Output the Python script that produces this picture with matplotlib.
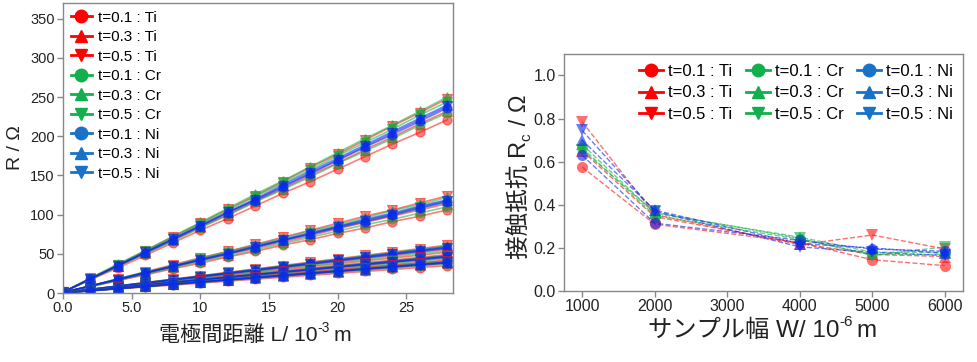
import matplotlib
matplotlib.use("Agg")
import matplotlib.pyplot as plt
from matplotlib.lines import Line2D
from matplotlib.transforms import IdentityTransform

FAMILY = ['Liberation Sans', 'Noto Sans CJK JP', 'DejaVu Sans']
plt.rcParams['font.family'] = FAMILY

# ---------------- data ----------------
series_labels = ["t=0.1 : Ti", "t=0.3 : Ti", "t=0.5 : Ti",
                 "t=0.1 : Cr", "t=0.3 : Cr", "t=0.5 : Cr",
                 "t=0.1 : Ni", "t=0.3 : Ni", "t=0.5 : Ni"]

L = [0, 2, 4, 6, 8, 10, 12, 14, 16, 18, 20, 22, 24, 26, 28]

R_W1000 = [
    [1, 17, 32, 48, 64, 80, 95, 111, 127, 142, 158, 174, 190, 205, 221],
    [1, 18, 34, 51, 67, 84, 100, 117, 133, 150, 166, 183, 199, 216, 232],
    [1, 19, 36, 54, 72, 89, 107, 124, 142, 160, 177, 195, 213, 230, 248],
    [1, 17, 34, 50, 66, 83, 99, 116, 132, 148, 165, 181, 197, 214, 230],
    [1, 19, 37, 54, 72, 90, 108, 126, 143, 161, 179, 197, 214, 232, 250],
    [1, 18, 36, 53, 70, 88, 105, 123, 140, 157, 175, 192, 209, 227, 244],
    [1, 18, 35, 51, 68, 85, 102, 118, 135, 152, 169, 186, 202, 219, 236],
    [1, 18, 35, 52, 69, 86, 103, 120, 138, 155, 172, 189, 206, 223, 240],
    [1, 18, 35, 52, 69, 86, 103, 119, 136, 153, 170, 187, 204, 221, 238],
]
R_W2000 = [
    [0.6, 8, 16, 23, 31, 38, 46, 53, 61, 68, 76, 83, 91, 98, 106],
    [0.6, 9, 17, 25, 33, 41, 49, 57, 65, 73, 82, 90, 98, 106, 114],
    [0.6, 9, 18, 27, 36, 45, 53, 62, 71, 80, 89, 98, 106, 115, 124],
    [0.6, 8, 16, 24, 32, 40, 47, 55, 63, 71, 79, 87, 94, 102, 110],
    [0.6, 9, 18, 27, 35, 44, 53, 61, 70, 79, 87, 96, 105, 113, 122],
    [0.6, 9, 17, 26, 34, 43, 51, 59, 68, 76, 85, 93, 101, 110, 118],
    [0.6, 9, 17, 25, 34, 42, 50, 58, 67, 75, 83, 91, 99, 108, 116],
    [0.6, 9, 18, 26, 34, 43, 51, 60, 68, 77, 85, 94, 102, 111, 119],
    [0.6, 9, 17, 26, 34, 42, 50, 59, 67, 75, 84, 92, 100, 109, 117],
]
R_W4000 = [
    [0.4, 4.1, 7.8, 11.5, 15.2, 18.8, 22.5, 26.2, 29.9, 33.6, 37.3, 41.0, 44.6, 48.3, 52],
    [0.4, 4.4, 8.3, 12.3, 16.3, 20.3, 24.2, 28.2, 32.2, 36.1, 40.1, 44.1, 48.1, 52.0, 56],
    [0.4, 4.7, 9.1, 13.4, 17.7, 22.0, 26.4, 30.7, 35.0, 39.4, 43.7, 48.0, 52.3, 56.7, 61],
    [0.4, 4.2, 8.1, 11.9, 15.7, 19.5, 23.4, 27.2, 31.0, 34.9, 38.7, 42.5, 46.3, 50.2, 54],
    [0.4, 4.7, 8.9, 13.2, 17.4, 21.7, 25.9, 30.2, 34.5, 38.7, 43.0, 47.2, 51.5, 55.7, 60],
    [0.4, 4.5, 8.6, 12.7, 16.9, 21.0, 25.1, 29.2, 33.3, 37.4, 41.5, 45.7, 49.8, 53.9, 58],
    [0.4, 4.4, 8.5, 12.5, 16.6, 20.6, 24.7, 28.7, 32.7, 36.8, 40.8, 44.9, 48.9, 53.0, 57],
    [0.4, 4.6, 8.8, 13.0, 17.2, 21.3, 25.5, 29.7, 33.9, 38.1, 42.3, 46.5, 50.7, 54.8, 59],
    [0.4, 4.5, 8.7, 12.8, 16.9, 21.0, 25.1, 29.2, 33.3, 37.4, 41.6, 45.7, 49.8, 53.9, 58],
]
R_W5000 = [
    [0.3, 3.3, 6.3, 9.2, 12.2, 15.2, 18.2, 21.2, 24.1, 27.1, 30.1, 33.1, 36.0, 39.0, 42],
    [0.3, 3.5, 6.7, 9.9, 13.1, 16.3, 19.5, 22.7, 25.8, 29.0, 32.2, 35.4, 38.6, 41.8, 45],
    [0.3, 3.8, 7.3, 10.7, 14.2, 17.7, 21.2, 24.7, 28.1, 31.6, 35.1, 38.6, 42.0, 45.5, 49],
    [0.3, 3.4, 6.5, 9.7, 12.8, 15.9, 19.0, 22.1, 25.3, 28.4, 31.5, 34.6, 37.7, 40.9, 44],
    [0.3, 3.7, 7.1, 10.5, 13.9, 17.3, 20.7, 24.1, 27.6, 31.0, 34.4, 37.8, 41.2, 44.6, 48],
    [0.3, 3.6, 7.0, 10.3, 13.6, 17.0, 20.3, 23.7, 27.0, 30.3, 33.7, 37.0, 40.3, 43.7, 47],
    [0.3, 3.6, 6.8, 10.1, 13.3, 16.6, 19.9, 23.1, 26.4, 29.6, 32.9, 36.2, 39.4, 42.7, 46],
    [0.3, 3.7, 7.0, 10.4, 13.7, 17.1, 20.4, 23.8, 27.1, 30.5, 33.8, 37.2, 40.5, 43.9, 47.3],
    [0.3, 3.6, 6.9, 10.2, 13.4, 16.7, 20.0, 23.3, 26.6, 29.8, 33.1, 36.4, 39.7, 43.0, 46.2],
]
R_W6000 = [
    [0.2, 2.7, 5.2, 7.7, 10.1, 12.6, 15.1, 17.6, 20.1, 22.5, 25.0, 27.5, 30.0, 32.5, 35],
    [0.2, 2.9, 5.6, 8.3, 11.0, 13.7, 16.4, 19.1, 21.8, 24.5, 27.2, 29.9, 32.6, 35.3, 38],
    [0.2, 3.1, 6.0, 8.9, 11.9, 14.8, 17.7, 20.6, 23.5, 26.4, 29.3, 32.3, 35.2, 38.1, 41],
    [0.2, 2.8, 5.5, 8.1, 10.7, 13.3, 16.0, 18.6, 21.2, 23.9, 26.5, 29.1, 31.7, 34.4, 37],
    [0.2, 3.0, 5.9, 8.7, 11.6, 14.4, 17.3, 20.1, 22.9, 25.8, 28.6, 31.5, 34.3, 37.2, 40],
    [0.2, 3.0, 5.7, 8.5, 11.3, 14.0, 16.8, 19.6, 22.3, 25.1, 27.8, 30.6, 33.4, 36.1, 39],
    [0.2, 2.9, 5.7, 8.4, 11.1, 13.8, 16.6, 19.3, 22.0, 24.8, 27.5, 30.2, 33.0, 35.7, 38.5],
    [0.2, 3.0, 5.8, 8.6, 11.4, 14.2, 17.0, 19.8, 22.6, 25.4, 28.2, 31.0, 33.9, 36.7, 39.5],
    [0.2, 3.0, 5.8, 8.5, 11.3, 14.1, 16.9, 19.7, 22.4, 25.2, 28.0, 30.8, 33.5, 36.3, 39],
]
R_groups = [R_W1000, R_W2000, R_W4000, R_W5000, R_W6000]

W = [1000, 2000, 4000, 5000, 6000]
Rc = [
    [0.575, 0.310, 0.225, 0.145, 0.118],
    [0.650, 0.345, 0.220, 0.170, 0.160],
    [0.785, 0.355, 0.215, 0.260, 0.195],
    [0.665, 0.350, 0.240, 0.170, 0.170],
    [0.680, 0.360, 0.250, 0.180, 0.180],
    [0.655, 0.365, 0.245, 0.165, 0.205],
    [0.630, 0.315, 0.235, 0.195, 0.185],
    [0.700, 0.375, 0.220, 0.200, 0.175],
    [0.745, 0.370, 0.205, 0.180, 0.165],
]

xticks_left = [0, 5, 10, 15, 20, 25]
xticklabels_left = ["0.0", "5.0", "10", "15", "20", "25"]

# ---------------- styles ----------------
markers = ['o', '^', 'v'] * 3
legend_colors = ['#ff0000'] * 3 + ['#12b04c'] * 3 + ['#1a72c8'] * 3
plot_colors = ['#ff1010'] * 3 + ['#10b040'] * 3 + ['#0a28f0'] * 3
spine_color = '#888888'
TXT = '#222222'

fig = plt.figure(figsize=(9.78, 3.62), dpi=100)
ax1 = fig.add_axes([0.0644, 0.1906, 0.463 - 0.0644, 0.9917 - 0.1906])
ax2 = fig.add_axes([0.5767, 0.196, 0.9847 - 0.5767, 0.851 - 0.196])

# left plot
for grp in R_groups:
    for i, vals in enumerate(grp):
        ax1.plot(L, vals, color=plot_colors[i], lw=1.2, alpha=0.55,
                 marker=markers[i], ms=6.5, mew=0.8, mfc=plot_colors[i],
                 mec=plot_colors[i], zorder=2)

handles1 = [Line2D([0], [0], color=legend_colors[i], lw=2, marker=markers[i], ms=9)
            for i in range(9)]
ax1.legend(handles1, series_labels, loc='upper left', frameon=False, fontsize=11,
           handlelength=1.4, handletextpad=0.4, labelspacing=0.36,
           borderaxespad=0.3, borderpad=0.2)

ax1.set_xlim(0, 28.4)
ax1.set_ylim(0, 370)
ax1.set_xticks(xticks_left)
ax1.set_xticklabels(xticklabels_left)
ax1.set_yticks(range(0, 351, 50))
ax1.set_ylabel("R / Ω", fontsize=14, labelpad=4, color=TXT)

# right plot
for i, vals in enumerate(Rc):
    ax2.plot(W, vals, color=plot_colors[i], lw=1.0, ls='--', alpha=0.6,
             marker=markers[i], ms=8, mew=0, zorder=2)

handles2 = [Line2D([0], [0], color=legend_colors[i], lw=2, marker=markers[i], ms=9)
            for i in range(9)]
ax2.legend(handles2, series_labels, loc='upper right', ncol=3, frameon=False,
           fontsize=12, handlelength=1.45, handletextpad=0.3, labelspacing=0.39,
           columnspacing=0.8, borderaxespad=0.4, borderpad=0.2)

ax2.set_ylim(0, 1.1)
ax2.set_yticks([0.0, 0.2, 0.4, 0.6, 0.8, 1.0])
ax2.set_xticks([1000, 2000, 3000, 4000, 5000, 6000])

for ax in (ax1, ax2):
    for s in ax.spines.values():
        s.set_color(spine_color)
        s.set_linewidth(1.0)
    ax.tick_params(axis='both', direction='out', length=4, width=1,
                   color=spine_color, pad=2, labelcolor=TXT)
ax1.tick_params(labelsize=10.5)
ax2.tick_params(labelsize=11.5)


# ---------------- rich labels (CJK + super/subscripts) ----------------
def rich_label(parts, cx, cy, rotation=0):
    """parts: (text, fontsize, baseline shift in pt, gap after in px).
    (cx, cy): centre of the baseline in pixels (origin bottom-left)."""
    renderer = fig.canvas.get_renderer()
    widths = []
    for s, size, shift, gap in parts:
        t = fig.text(0, 0, s, fontsize=size, family=FAMILY)
        widths.append(t.get_window_extent(renderer).width + gap)
        t.remove()
    pos = -sum(widths) / 2.0
    for (s, size, shift, gap), w in zip(parts, widths):
        sh = shift * fig.dpi / 72.0
        if rotation == 0:
            x, y = cx + pos, cy + sh
        else:
            x, y = cx - sh, cy + pos
        fig.text(x, y, s, fontsize=size, family=FAMILY, color=TXT,
                 rotation=rotation, rotation_mode='anchor',
                 ha='left', va='baseline', transform=IdentityTransform())
        pos += w


rich_label([("電極間距離 L/ 10", 15.2, 0, 0), ("-3", 10, 6.8, 3), ("m", 15.2, 0, 0)],
           cx=255, cy=362 - 341)
rich_label([("サンプル幅 W/ 10", 17.5, 0, 0), ("-6", 11, 8, 3), ("m", 17.5, 0, 0)],
           cx=762, cy=362 - 337)
rich_label([("接触抵抗 R", 17, 0, 0), ("c", 11, -3, 1), (" / Ω", 17, 0, 0)],
           cx=526, cy=362 - 177, rotation=90)

fig.savefig("out.png", dpi=100)
